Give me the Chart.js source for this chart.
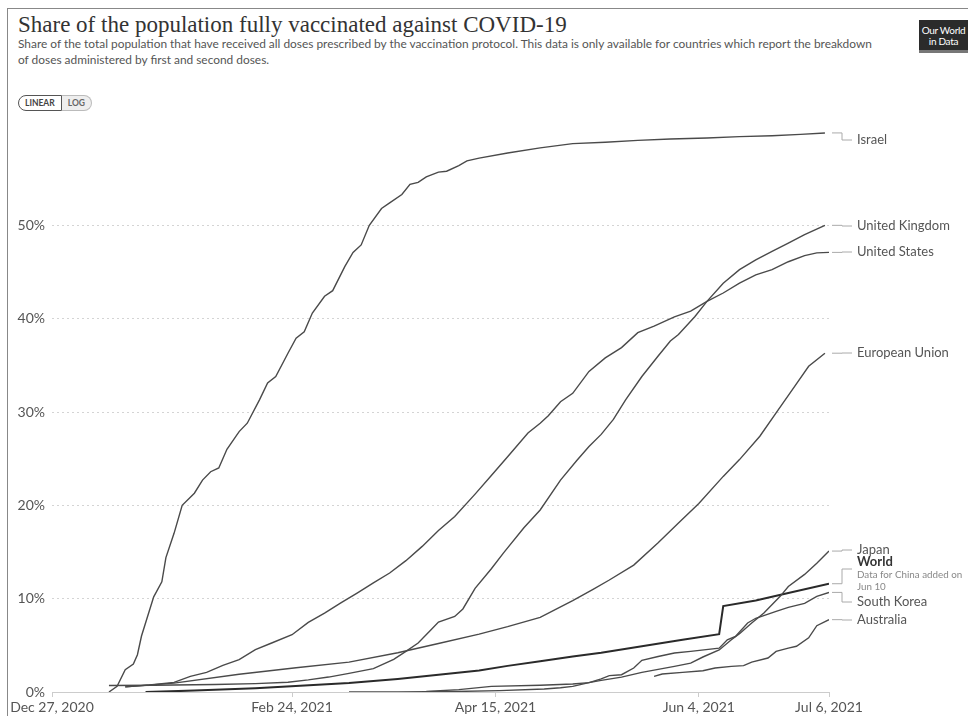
<!DOCTYPE html>
<html>
<head>
<meta charset="utf-8">
<script src="https://cdn.jsdelivr.net/npm/chart.js@4.4.1/dist/chart.umd.min.js"></script>
<style>
  body { margin:0; width:968px; height:716px; overflow:hidden; background:#fff; position:relative; font-family:Lato, "Noto Sans", sans-serif; }
  .frame { position:absolute; left:7px; top:8px; width:980px; height:720px; border-left:1px solid #888; border-top:1px solid #888; }
  .title { position:absolute; left:18px; top:13px; font-family:"Liberation Serif", "DejaVu Serif", serif; font-size:23px; line-height:24px; color:#333; white-space:nowrap; }
  .subtitle { position:absolute; left:18px; top:36px; font-size:11.9px; line-height:16px; color:#555; white-space:nowrap; }
  .buttons { position:absolute; left:18px; top:95px; height:16px; display:flex; font-size:8.5px; font-weight:bold; color:#444; }
  .buttons span { display:inline-block; height:14px; line-height:14px; padding:0 6px; border:1px solid #bbb; }
  .buttons .on { border:1px solid #555; border-radius:8px 0 0 8px; background:#fff; }
  .buttons .off { border-left:none; border-radius:0 8px 8px 0; background:#eee; color:#666; }
  .logo { position:absolute; left:919px; top:20px; width:49px; height:33px; background:#2b2b2b; border-bottom:3px solid #777; color:#fff; font-size:10px; line-height:11px; text-align:center; padding-top:5px; box-sizing:border-box; white-space:nowrap; letter-spacing:-0.3px; }
  canvas { position:absolute; left:0; top:0; }
</style>
</head>
<body>
<div class="frame"></div>
<div class="title">Share of the population fully vaccinated against COVID-19</div>
<div class="subtitle">Share of the total population that have received all doses prescribed by the vaccination protocol. This data is only available for countries which report the breakdown<br>of doses administered by first and second doses.</div>
<div class="buttons"><span class="on">LINEAR</span><span class="off">LOG</span></div>
<div class="logo">Our World<br>in Data</div>
<canvas id="chart" width="968" height="716"></canvas>
<script>
// days since Dec 27, 2020 -> share fully vaccinated (%)
var xTickDays = [0, 59, 109, 159, 191];
var xTickLabels = ['Dec 27, 2020', 'Feb 24, 2021', 'Apr 15, 2021', 'Jun 4, 2021', 'Jul 6, 2021'];
var yTicks = [0, 10, 20, 30, 40, 50];

var israel = [[14,0],[16,0.6],[18,2.4],[20,3.0],[21,4.0],[22,6.0],[25,10.2],[27,11.8],[28,14.4],[30,17.0],
  [32,20.0],[35,21.3],[37,22.7],[39,23.6],[41,24.0],[43,26.0],[46,27.9],[48,28.8],[51,31.3],[53,33.1],
  [55,33.8],[58,36.3],[60,37.9],[62,38.6],[64,40.6],[67,42.4],[69,43.0],[72,45.6],[74,47.1],[76,47.9],
  [78,50.0],[81,51.8],[83,52.4],[86,53.3],[88,54.4],[90,54.6],[92,55.2],[95,55.7],[97,55.8],[100,56.4],
  [102,56.9],[105,57.2],[112,57.75],[120,58.3],[128,58.75],[136,58.9],[144,59.1],[152,59.25],[161,59.35],
  [169,59.5],[177,59.6],[184,59.75],[190,59.9]];
var unitedKingdom = [[14,0.7],[25,0.72],[40,0.8],[50,0.9],[58,1.05],[63,1.3],[68,1.6],[73,2.0],[79,2.5],[84,3.5],
  [87,4.35],[90,5.25],[93,6.6],[95,7.5],[99,8.1],[101,8.9],[104,11.1],[108,13.2],[111,14.9],[116,17.6],
  [120,19.5],[125,22.7],[129,24.8],[132,26.3],[135,27.6],[138,29.2],[141,31.3],[145,33.8],[149,36.0],[152,37.6],
  [154,38.3],[158,40.2],[161,41.85],[165,43.8],[169,45.25],[173,46.3],[177,47.2],[181,48.1],[185,49.0],[190,50.0]];
var unitedStates = [[18,0.55],[24,0.75],[30,1.03],[34,1.67],[38,2.1],[42,2.85],[46,3.46],[50,4.53],[54,5.25],[59,6.14],
  [63,7.46],[67,8.46],[71,9.54],[75,10.6],[79,11.7],[83,12.75],[87,14.07],[91,15.6],[95,17.3],[99,18.8],
  [104,21.2],[108,23.2],[112,25.2],[117,27.75],[120,28.8],[122,29.6],[125,31.1],[128,32.0],[132,34.35],[136,35.8],
  [140,36.9],[144,38.5],[148,39.2],[153,40.2],[157,40.8],[161,41.85],[165,42.75],[169,43.8],[173,44.7],[177,45.25],
  [181,46.1],[185,46.75],[188,47.05],[191,47.1]];
var europeanUnion = [[18,0.55],[30,0.95],[46,1.9],[60,2.6],[73,3.2],[85,4.2],[95,5.2],[105,6.2],[112,7.0],[120,8.0],
  [128,9.8],[133,11.0],[137,12.0],[143,13.6],[149,16.0],[154,18.1],[159,20.2],[165,23.1],[169,24.9],[174,27.4],
  [178,29.9],[182,32.4],[186,34.9],[190,36.3]];
var japan = [[73,0],[85,0.01],[99,0.05],[110,0.15],[121,0.32],[125,0.45],[128,0.6],[132,1.0],[135,1.25],[140,1.6],
  [145,2.1],[153,2.75],[157,3.1],[160,3.75],[164,4.5],[167,5.6],[169,6.25],[172,7.4],[175,8.46],[179,10.25],
  [181,11.3],[185,12.6],[188,13.8],[191,15.1]];
var world = [[23,0],[35,0.15],[50,0.4],[61,0.67],[73,0.96],[85,1.4],[95,1.85],[105,2.3],[112,2.8],[120,3.3],
  [128,3.8],[135,4.2],[145,4.9],[155,5.6],[164,6.2],[165,9.2],[173,9.8],[181,10.6],[191,11.6]];
var southKorea = [[92,0.05],[100,0.25],[108,0.6],[120,0.72],[128,0.86],[132,1.0],[135,1.4],[137,1.75],[140,1.85],[143,2.57],
  [145,3.39],[149,3.8],[153,4.18],[157,4.35],[164,4.7],[166,5.6],[168,5.96],[171,7.4],[173,7.9],[178,8.64],
  [181,9.07],[185,9.5],[188,10.25],[191,10.67]];
var australia = [[148,1.67],[150,1.93],[155,2.1],[160,2.28],[163,2.57],[167,2.75],[170,2.82],[172,3.2],[176,3.64],[178,4.35],
  [181,4.7],[183,4.9],[186,5.8],[188,7.1],[191,7.75]];

var seriesNames = ['Israel', 'United Kingdom', 'United States', 'European Union', 'Japan', 'World', 'South Korea', 'Australia'];
var seriesData = [israel, unitedKingdom, unitedStates, europeanUnion, japan, world, southKorea, australia];

// where the end labels sit (pixels), so they don't overlap
var labelY = [140, 226, 252, 353, 550, 569, 602, 620];

function toPoints(arr) {
  return arr.map(function (p) { return { x: p[0], y: p[1] }; });
}

var endLabels = {
  id: 'endLabels',
  afterDatasetsDraw: function (chart) {
    var ctx = chart.ctx;
    var right = chart.chartArea.right;
    ctx.save();
    chart.data.datasets.forEach(function (ds, i) {
      var pts = chart.getDatasetMeta(i).data;
      var last = pts[pts.length - 1];
      var ly = labelY[i];
      ctx.strokeStyle = '#aaa';
      ctx.lineWidth = 1;
      ctx.beginPath();
      ctx.moveTo(right + 3, last.y);
      ctx.lineTo(842, last.y);
      ctx.lineTo(842, ly);
      ctx.lineTo(852, ly);
      ctx.stroke();
      ctx.textBaseline = 'middle';
      ctx.textAlign = 'left';
      if (ds.label === 'World') {
        ctx.fillStyle = '#333';
        ctx.font = 'bold 13px Lato';
        ctx.fillText('World', 857, ly - 7);
        ctx.fillStyle = '#888';
        ctx.font = '9.8px Lato';
        ctx.fillText('Data for China added on', 857, ly + 6);
        ctx.fillText('Jun 10', 857, ly + 18);
      } else {
        ctx.fillStyle = '#555';
        ctx.font = '13px Lato';
        ctx.fillText(ds.label, 857, ly);
      }
    });
    ctx.restore();
  }
};

var ctx = document.getElementById('chart').getContext('2d');
var myChart = new Chart(ctx, {
  type: 'line',
  data: {
    datasets: seriesNames.map(function (name, i) {
      return {
        label: name,
        data: toPoints(seriesData[i]),
        borderColor: name === 'World' ? '#2a2a2a' : '#4a4a4a',
        borderWidth: name === 'World' ? 2 : 1.4,
        pointRadius: 0,
        tension: 0,
        fill: false
      };
    })
  },
  options: {
    responsive: false,
    animation: false,
    layout: { padding: { left: 8, right: 139, top: 132, bottom: 0 } },
    plugins: {
      legend: { display: false },
      tooltip: { enabled: false }
    },
    scales: {
      x: {
        type: 'linear',
        min: 0,
        max: 191,
        afterBuildTicks: function (s) { s.ticks = xTickDays.map(function (v) { return { value: v }; }); },
        afterFit: function (s) { s.height = 24; },
        ticks: {
          autoSkip: false,
          maxRotation: 0,
          padding: 2,
          color: '#555',
          font: { family: 'Lato', size: 14 },
          callback: function (v) { return xTickLabels[xTickDays.indexOf(v)]; }
        },
        grid: { drawOnChartArea: false, drawTicks: true, tickLength: 5, color: '#ccc' },
        border: { color: '#ccc' }
      },
      y: {
        min: 0,
        max: 60,
        afterBuildTicks: function (s) { s.ticks = yTicks.map(function (v) { return { value: v }; }); },
        afterFit: function (s) { s.width = 44; },
        ticks: {
          padding: 7,
          color: '#555',
          font: { family: 'Lato', size: 14 },
          callback: function (v) { return v + '%'; }
        },
        grid: { color: '#d4d4d4', drawTicks: false },
        border: { display: false, dash: [2, 3] }
      }
    }
  },
  plugins: [endLabels]
});
</script>
</body>
</html>
